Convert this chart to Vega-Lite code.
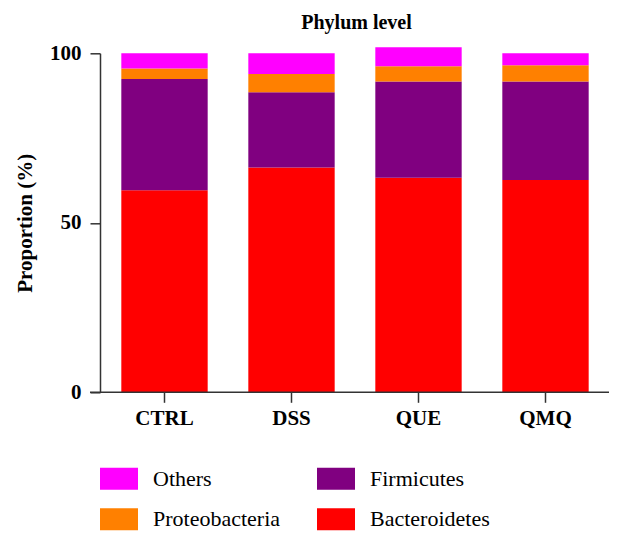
{
  "$schema": "https://vega.github.io/schema/vega-lite/v6.json",
  "autosize": "none",
  "width": 519,
  "height": 339,
  "padding": {"left": 90, "top": 53.3, "right": 14, "bottom": 150.7},
  "background": "white",
  "title": {
    "text": "Phylum level",
    "font": "Liberation Serif",
    "fontSize": 20,
    "fontWeight": "bold",
    "color": "black",
    "anchor": "middle",
    "frame": "group",
    "baseline": "alphabetic",
    "offset": -7,
    "dx": 7
  },
  "config": {
    "font": "Liberation Serif",
    "view": {"stroke": null},
    "axis": {
      "labelFont": "Liberation Serif",
      "titleFont": "Liberation Serif",
      "labelFontWeight": "bold",
      "titleFontWeight": "bold",
      "labelColor": "black",
      "titleColor": "black",
      "labelFontSize": 21,
      "titleFontSize": 21,
      "domainColor": "#333333",
      "tickColor": "#333333",
      "domainWidth": 1.5,
      "tickWidth": 1.5,
      "tickSize": 10,
      "grid": false
    },
    "legend": {
      "labelFont": "Liberation Serif",
      "labelFontSize": 22,
      "labelFontWeight": "normal",
      "labelColor": "black"
    }
  },
  "layer": [
    {
      "data": {
        "values": [
          {"group": "CTRL", "phylum": "Bacteroidetes", "rank": 1, "value": 59.6},
          {"group": "CTRL", "phylum": "Firmicutes", "rank": 2, "value": 32.8},
          {"group": "CTRL", "phylum": "Proteobacteria", "rank": 3, "value": 3.1},
          {"group": "CTRL", "phylum": "Others", "rank": 4, "value": 4.5},
          {"group": "DSS", "phylum": "Bacteroidetes", "rank": 1, "value": 66.3},
          {"group": "DSS", "phylum": "Firmicutes", "rank": 2, "value": 22.2},
          {"group": "DSS", "phylum": "Proteobacteria", "rank": 3, "value": 5.4},
          {"group": "DSS", "phylum": "Others", "rank": 4, "value": 6.1},
          {"group": "QUE", "phylum": "Bacteroidetes", "rank": 1, "value": 63.3},
          {"group": "QUE", "phylum": "Firmicutes", "rank": 2, "value": 28.4},
          {"group": "QUE", "phylum": "Proteobacteria", "rank": 3, "value": 4.5},
          {"group": "QUE", "phylum": "Others", "rank": 4, "value": 5.6},
          {"group": "QMQ", "phylum": "Bacteroidetes", "rank": 1, "value": 62.6},
          {"group": "QMQ", "phylum": "Firmicutes", "rank": 2, "value": 29.1},
          {"group": "QMQ", "phylum": "Proteobacteria", "rank": 3, "value": 4.8},
          {"group": "QMQ", "phylum": "Others", "rank": 4, "value": 3.5}
        ]
      },
      "mark": {"type": "bar"},
      "encoding": {
        "x": {
          "field": "group",
          "type": "nominal",
          "sort": ["CTRL", "DSS", "QUE", "QMQ"],
          "scale": {"range": [11, 519], "paddingInner": 0.32, "paddingOuter": 0.16},
          "axis": {"title": null, "labelAngle": 0, "domain": false, "labelPadding": 5}
        },
        "y": {
          "field": "value",
          "type": "quantitative",
          "stack": "zero",
          "scale": {"domain": [0, 100], "nice": false},
          "axis": {
            "title": "Proportion (%)",
            "values": [0, 50, 100],
            "offset": -10,
            "labelPadding": 9,
            "titlePadding": 14
          }
        },
        "order": {"field": "rank", "type": "quantitative"},
        "color": {
          "field": "phylum",
          "type": "nominal",
          "scale": {
            "domain": ["Others", "Firmicutes", "Proteobacteria", "Bacteroidetes"],
            "range": ["#FF00FF", "#800080", "#FF8000", "#FF0000"]
          },
          "legend": {
            "title": null,
            "orient": "none",
            "legendX": 10,
            "legendY": 406,
            "direction": "horizontal",
            "columns": 2,
            "columnPadding": 36,
            "rowPadding": 10,
            "symbolType": "M-1,-0.58H1V0.58H-1Z",
            "symbolSize": 1444,
            "symbolStrokeWidth": 0,
            "symbolOpacity": 1,
            "labelFont": "Liberation Serif",
            "labelFontSize": 22,
            "labelColor": "black",
            "labelOffset": 15,
            "labelLimit": 300
          }
        }
      }
    },
    {
      "data": {"values": [{"baseline": 0}]},
      "mark": {"type": "rule", "color": "#333333", "strokeWidth": 1.5},
      "encoding": {
        "y": {"field": "baseline", "type": "quantitative"}
      }
    }
  ]
}
